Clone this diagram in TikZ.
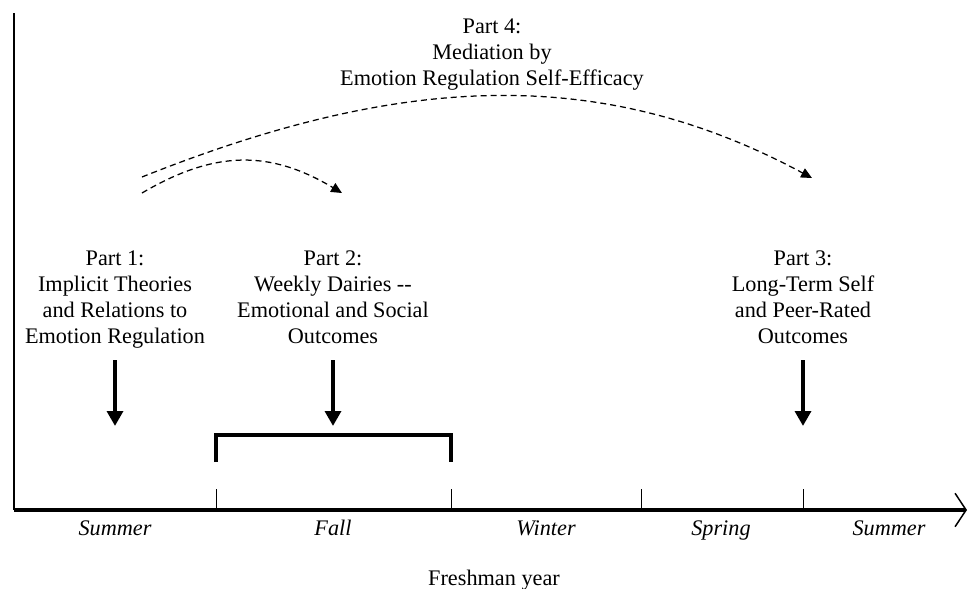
\documentclass[tikz,border=0pt]{standalone}
\usepackage{fontspec}
\setmainfont{Liberation Serif}
\usetikzlibrary{arrows.meta}

\tikzset{
    part/.style={align=center, anchor=north, inner sep=0pt, font=\fontsize{13.35}{15.6}\selectfont},
    season/.style={anchor=base, inner sep=0pt, font=\fontsize{13.35}{15.6}\selectfont\itshape},
    bigarrow/.style={line width=2.4pt, -{Triangle[length=9pt,width=9.5pt]}},
    linkarrow/.style={dash pattern=on 3.6pt off 2.4pt, line width=0.75pt, -{Triangle[length=6.5pt,width=6pt]}},
}

\begin{document}
\begin{tikzpicture}[x=0.6pt,y=-0.6pt]
    \useasboundingbox (0,0) rectangle (968,588);

    % time axis
    \coordinate (O) at (14,510);
    \coordinate (T) at (14,13);
    \coordinate (E) at (967,510);
    \draw[line width=1.7pt] (T) -- (O);
    \draw[line width=2pt, -{Straight Barb[length=6.6pt,width=20pt,line width=0.9pt]}] (O) -- (E);

    % season boundaries
    \foreach \x/\name in {216/b1,451/b2,641/b3,803/b4} {
        \coordinate (\name) at (\x,510);
        \draw[line width=0.6pt] (\name) -- ++(0,-21);
    }

    % seasons
    \node[season] (su1) at (115,535) {Summer};
    \node[season] (fa)  at (333,535) {Fall};
    \node[season] (wi)  at (546,535) {Winter};
    \node[season] (sp)  at (721,535) {Spring};
    \node[season] (su2) at (889,535) {Summer};
    \node[season, font=\fontsize{13.35}{15.6}\selectfont] (year) at (494,585) {Freshman year};

    % the four parts
    \node[part] (p1) at (115,250) {Part 1:\\Implicit Theories\\and Relations to\\Emotion Regulation};
    \node[part] (p2) at (333,250) {Part 2:\\Weekly Dairies -{}-\\Emotional and Social\\Outcomes};
    \node[part] (p3) at (803,250) {Part 3:\\Long-Term Self\\and Peer-Rated\\Outcomes};
    \node[part] (p4) at (492,19) {Part 4:\\Mediation by\\Emotion Regulation Self-Efficacy};

    % when each part is measured
    \coordinate (t1) at (115,426);
    \coordinate (t2) at (333,426);
    \coordinate (t3) at (803,426);
    \draw[bigarrow, shorten <=7.2pt] (p1.south) -- (t1);
    \draw[bigarrow, shorten <=10pt] (p2.south) -- (t2);
    \draw[bigarrow, shorten <=10pt] (p3.south) -- (t3);

    % weekly diary period
    \coordinate (w1) at (216,462);
    \coordinate (w2) at (451,462);
    \draw[line width=2pt] (w1) -- ++(0,-27) -| (w2);

    % links between the parts
    \coordinate (s2) at (142,193);
    \coordinate (e2) at (342,193);
    \coordinate (s4) at (142,177);
    \coordinate (e4) at (812,178);
    \draw[linkarrow] (s2) .. controls (215,150) and (270,150) .. (e2);
    \draw[linkarrow] (s4) .. controls (400,74) and (600,64) .. (e4);
\end{tikzpicture}
\end{document}
